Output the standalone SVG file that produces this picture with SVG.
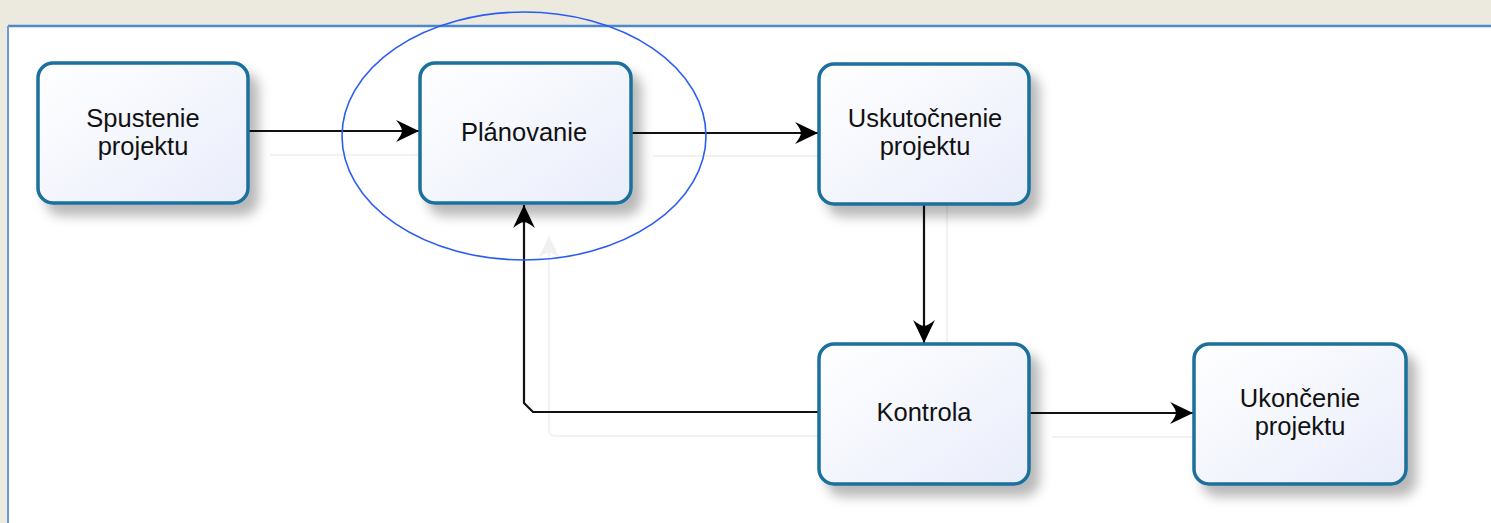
<svg xmlns="http://www.w3.org/2000/svg" width="1491" height="523" viewBox="0 0 1491 523">
<defs>
<linearGradient id="boxFill" x1="0" y1="0" x2="1" y2="1">
<stop offset="0" stop-color="#ffffff"/>
<stop offset="1" stop-color="#e9edfb"/>
</linearGradient>
<filter id="shadow" x="-20%" y="-20%" width="150%" height="160%">
<feDropShadow dx="9" dy="11" stdDeviation="6" flood-color="#000000" flood-opacity="0.28"/>
</filter>
<marker id="arrow" viewBox="0 0 24 22" refX="23" refY="11" markerWidth="25" markerHeight="23" markerUnits="userSpaceOnUse" orient="auto">
<path d="M23,11 L1,0.5 Q7,8 6.5,11 Q7,14 1,21.5 Z" fill="#000"/>
</marker>
<marker id="arrowFaint" viewBox="0 0 24 22" refX="23" refY="11" markerWidth="24" markerHeight="22" markerUnits="userSpaceOnUse" orient="auto">
<path d="M23,11 L1,0.5 Q7,8 6.5,11 Q7,14 1,21.5 Z" fill="#f0f0f0"/>
</marker>
</defs>
<style>
.node rect{fill:url(#boxFill);stroke:#1b6f9c;stroke-width:3.5;filter:url(#shadow)}
.node text{font-family:"Liberation Sans",Arial,sans-serif;font-size:25.5px;fill:#111;text-anchor:middle}
.conn path{fill:none;stroke:#111;stroke-width:2.2;marker-end:url(#arrow)}
.ghost path{fill:none;stroke:#f2f2f2;stroke-width:2}
</style>
<rect x="0" y="0" width="1491" height="523" fill="#ece9df"/>
<rect x="8" y="26" width="1483" height="497" fill="#ffffff"/>
<line x1="8" y1="26" x2="1491" y2="26" stroke="#4d88cb" stroke-width="2.5"/>
<line x1="8" y1="26" x2="8" y2="523" stroke="#6b9ad3" stroke-width="2"/>

<g id="connector-shadows" class="ghost">
<path d="M270,155 L418,155"/>
<path d="M653,156 L818,156"/>
<path d="M947,205 L947,343"/>
<path d="M1052,437 L1193,437"/>
<path d="M818,436 L556,436 Q549,436 549,429 L549,236" marker-end="url(#arrowFaint)"/>
</g>

<g id="connectors" class="conn">
<path d="M249,131 L419,131"/>
<path d="M632,133 L818,133"/>
<path d="M924,204 L924,343"/>
<path d="M1030,413 L1193,413"/>
<path d="M818,412 L533,412 L524,403 L524,205"/>
</g>

<g id="node-spustenie" class="node">
<rect x="38" y="63" width="210" height="140" rx="15"/>
<text x="143" y="127">Spustenie</text>
<text x="143" y="155">projektu</text>
</g>
<g id="node-planovanie" class="node">
<rect x="420" y="63" width="211" height="140" rx="15"/>
<text x="524" y="141">Plánovanie</text>
</g>
<g id="node-uskutocnenie" class="node">
<rect x="819" y="64" width="210" height="140" rx="15"/>
<text x="925" y="127">Uskutočnenie</text>
<text x="925" y="155">projektu</text>
</g>
<g id="node-kontrola" class="node">
<rect x="819" y="344" width="210" height="140" rx="15"/>
<text x="924" y="421">Kontrola</text>
</g>
<g id="node-ukoncenie" class="node">
<rect x="1194" y="344" width="212" height="140" rx="15"/>
<text x="1300" y="407">Ukončenie</text>
<text x="1300" y="435">projektu</text>
</g>

<g id="highlight">
<ellipse cx="524" cy="136" rx="182" ry="124" fill="none" stroke="#2b5cf2" stroke-width="1.6"/>
</g>
</svg>
